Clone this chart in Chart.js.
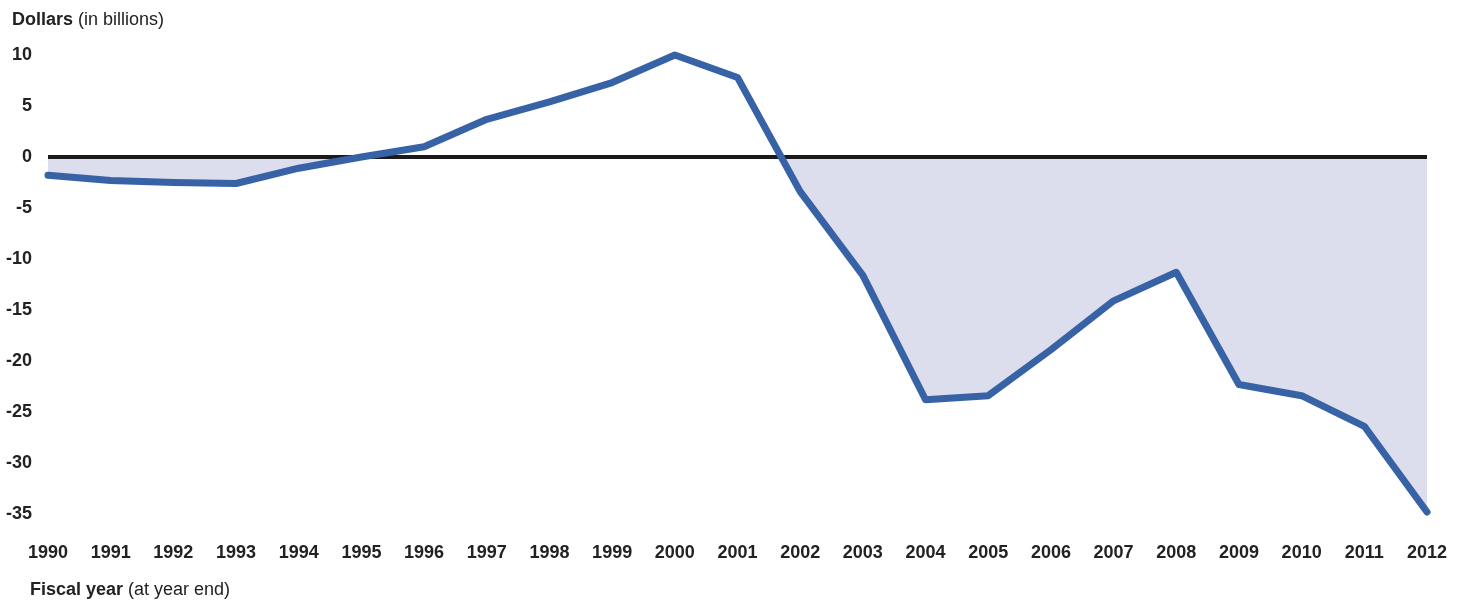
<!DOCTYPE html>
<html>
<head>
<meta charset="utf-8">
<script src="https://cdn.jsdelivr.net/npm/chart.js@4"></script>
<style>
  html, body { margin: 0; padding: 0; background: #fff; }
  #wrap { width: 1464px; height: 602px; }
</style>
</head>
<body>
<div id="wrap"><canvas id="chart" width="1464" height="602"></canvas></div>
<script>
// fiscal years, values in billions of dollars
var years = ['1990', '1991', '1992', '1993', '1994', '1995', '1996', '1997', '1998', '1999', '2000', '2001',
             '2002', '2003', '2004', '2005', '2006', '2007', '2008', '2009', '2010', '2011', '2012'];
var balance = [-1.8, -2.3, -2.5, -2.6, -1.1, 0, 1.0, 3.7, 5.4, 7.3, 10.0, 7.8,
               -3.4, -11.6, -23.8, -23.4, -18.9, -14.1, -11.3, -22.3, -23.4, -26.4, -34.8];
var yMin = -35, yMax = 10, yStep = 5;

var font = '"Liberation Sans", Arial, sans-serif';

// axis titles with a bold first word
var labelsPlugin = {
    id: 'axisLabels',
    afterDraw: function (chart) {
        var ctx = chart.ctx;
        ctx.save();
        ctx.fillStyle = '#222';
        ctx.textBaseline = 'alphabetic';
        function mixed(bold, rest, x, y) {
            ctx.font = 'bold 18px ' + font;
            ctx.fillText(bold, x, y);
            var w = ctx.measureText(bold).width;
            ctx.font = '18px ' + font;
            ctx.fillText(rest, x + w, y);
        }
        mixed('Dollars', ' (in billions)', 12, 25);
        mixed('Fiscal year', ' (at year end)', 30, 595);
        ctx.restore();
    }
};

var ctx = document.getElementById('chart').getContext('2d');
var myChart = new Chart(ctx, {
    type: 'line',
    data: {
        labels: years,
        datasets: [{
            data: balance,
            borderColor: '#3762a6',
            borderWidth: 7,
            borderCapStyle: 'round',
            borderJoinStyle: 'round',
            pointRadius: 0,
            tension: 0,
            clip: false,
            fill: {
                target: { value: 0 },
                above: 'rgba(0,0,0,0)',
                below: '#dcdded'
            }
        }]
    },
    options: {
        responsive: false,
        animation: false,
        layout: { padding: { top: 55, right: 37, left: 0, bottom: 0 } },
        plugins: {
            legend: { display: false },
            tooltip: { enabled: false },
            filler: { drawTime: 'beforeDraw' }
        },
        scales: {
            x: {
                offset: false,
                border: { display: false },
                grid: { display: false, drawTicks: false },
                ticks: {
                    color: '#222',
                    font: { family: font, size: 18, weight: 'bold' },
                    padding: 28,
                    maxRotation: 0,
                    autoSkip: false
                },
                afterFit: function (scale) {
                    scale.height = 88;
                    scale.paddingLeft = 0;
                    scale.paddingRight = 0;
                }
            },
            y: {
                min: yMin,
                max: yMax,
                border: { display: false },
                grid: {
                    drawTicks: false,
                    color: function (c) { return c.tick && c.tick.value === 0 ? '#1a1a1a' : 'rgba(0,0,0,0)'; },
                    lineWidth: function (c) { return c.tick && c.tick.value === 0 ? 4 : 0; }
                },
                ticks: {
                    stepSize: yStep,
                    color: '#222',
                    font: { family: font, size: 18, weight: 'bold' },
                    padding: 16
                },
                afterFit: function (scale) { scale.width = 48; }
            }
        }
    },
    plugins: [labelsPlugin]
});
</script>
</body>
</html>
